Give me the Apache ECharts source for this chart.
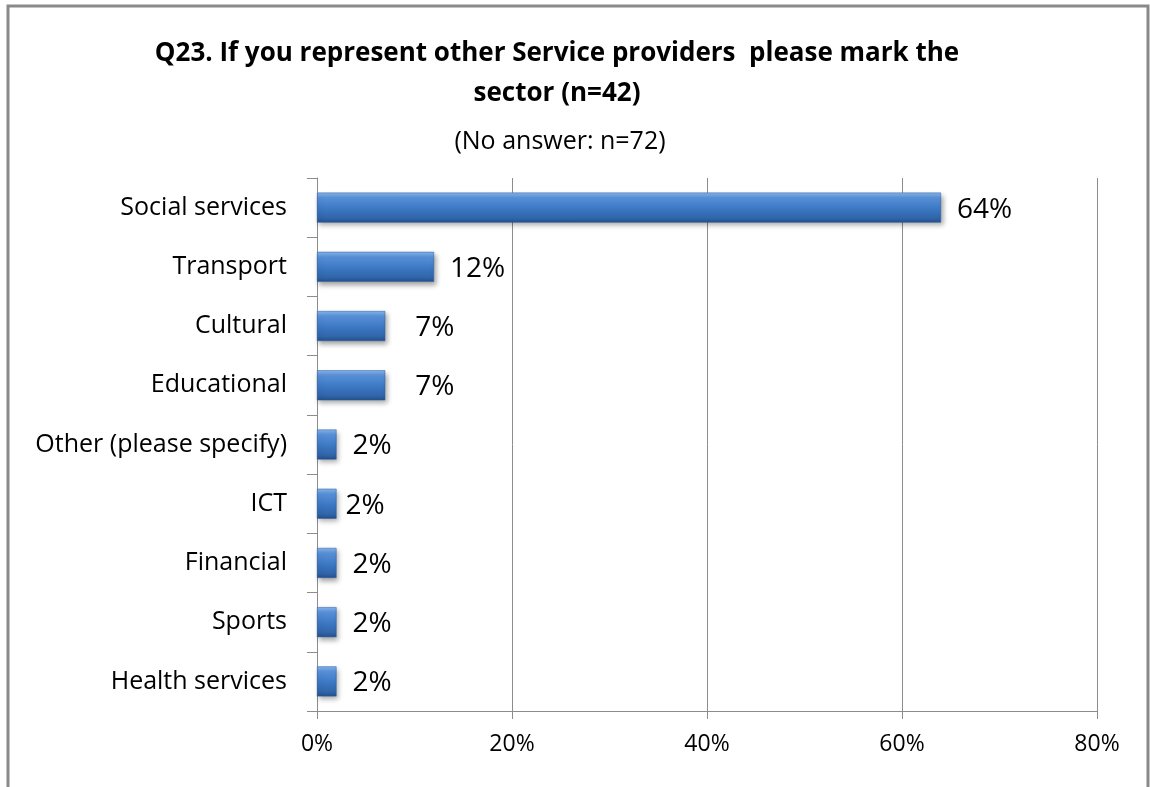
<!DOCTYPE html>
<html>
<head>
<meta charset="utf-8">
<script src="https://cdn.jsdelivr.net/npm/echarts@6/dist/echarts.min.js"></script>
<style>
  html, body { margin: 0; padding: 0; background: #fff; }
  #chart { width: 1150px; height: 787px; }
</style>
</head>
<body>
<div id="chart"></div>
<script>
// Sectors of other service providers (share of respondents, %)
const categories = [
  'Social services', 'Transport', 'Cultural', 'Educational',
  'Other (please specify)', 'ICT', 'Financial', 'Sports', 'Health services'
];
const shares = [64, 12, 7, 7, 2, 2, 2, 2, 2];
const xTicks = [0, 20, 40, 60, 80];

// distance (px) between bar end and its value label
const labelGap = [16, 16, 30, 30, 16, 9, 16, 16, 16];

const FONT = '"Open Sans", "Noto Sans", sans-serif';

const barGradient = new echarts.graphic.LinearGradient(0, 0, 0, 1, [
  { offset: 0, color: '#85b6ee' },
  { offset: 0.18, color: '#5890d8' },
  { offset: 0.55, color: '#3b77c3' },
  { offset: 0.85, color: '#3165a9' },
  { offset: 1, color: '#234f8b' }
]);

const chart = echarts.init(document.getElementById('chart'), null, { renderer: 'canvas' });

chart.setOption({
  animation: false,
  backgroundColor: '#ffffff',
  graphic: [{
    type: 'rect',
    shape: { x: 8, y: 6, width: 1140, height: 820 },
    style: { fill: null, stroke: '#8a8a8a', lineWidth: 3 },
    silent: true
  }],
  title: [{
    text: 'Q23. If you represent other Service providers  please mark the\nsector (n=42)',
    left: 557,
    textAlign: 'center',
    top: 34,
    padding: 0,
    textStyle: {
      fontFamily: FONT, fontSize: 26, fontWeight: 'bold', color: '#000', lineHeight: 40
    }
  }, {
    text: '(No answer: n=72)',
    left: 560,
    textAlign: 'center',
    top: 129,
    padding: 0,
    textStyle: { fontFamily: FONT, fontSize: 25, fontWeight: 'normal', color: '#000' }
  }],
  grid: { left: 317, right: 53, top: 178, bottom: 76, containLabel: false },
  xAxis: {
    type: 'value',
    min: xTicks[0],
    max: xTicks[xTicks.length - 1],
    interval: xTicks[1] - xTicks[0],
    axisLine: { show: true, lineStyle: { color: '#8c8c8c', width: 1 } },
    axisTick: { show: true, length: 8, lineStyle: { color: '#8c8c8c' } },
    splitLine: { show: true, lineStyle: { color: '#8c8c8c', width: 1 } },
    axisLabel: {
      formatter: '{value}%', margin: 22,
      fontFamily: FONT, fontSize: 23, color: '#000'
    }
  },
  yAxis: {
    type: 'category',
    data: categories,
    inverse: true,
    axisLine: { show: true, lineStyle: { color: '#8c8c8c', width: 1 } },
    axisTick: { show: true, length: 10, alignWithLabel: false, lineStyle: { color: '#8c8c8c' } },
    axisLabel: { margin: 30, fontFamily: FONT, fontSize: 25, color: '#000' }
  },
  series: [{
    type: 'bar',
    data: shares.map((v, i) => ({
      value: v,
      label: { distance: labelGap[i] }
    })),
    barWidth: 30,
    itemStyle: {
      color: barGradient,
      borderColor: '#2c5d9e',
      borderWidth: 0.5,
      shadowColor: 'rgba(0,0,0,0.35)',
      shadowBlur: 5,
      shadowOffsetX: 2,
      shadowOffsetY: 3
    },
    label: {
      show: true,
      position: 'right',
      offset: [0, 2],
      formatter: '{c}%',
      fontFamily: FONT,
      fontSize: 28,
      color: '#000'
    }
  }]
});
</script>
</body>
</html>
